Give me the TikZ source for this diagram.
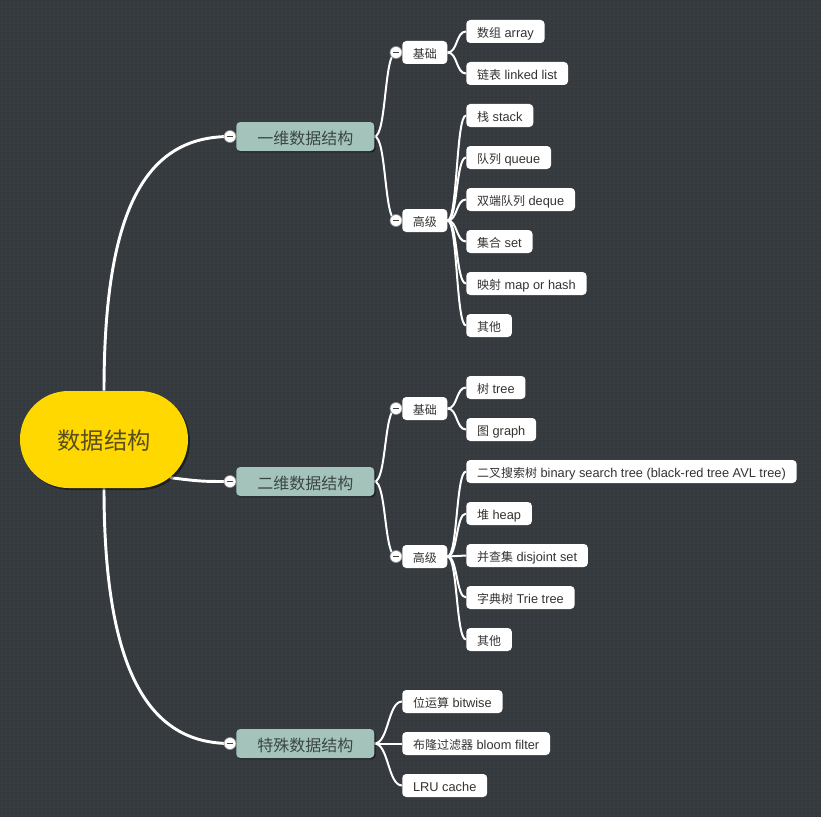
\documentclass[tikz,border=0pt]{standalone}
\usepackage{fontspec}
\setmainfont{Liberation Sans}
\newfontfamily\cjk{Noto Sans CJK SC}
\newcommand\zh[1]{{\cjk\fontsize{9}{11}\selectfont #1}}
\usetikzlibrary{shapes.misc,shadows,patterns}
\pgfdeclarelayer{bg}
\pgfdeclarelayer{links}
\pgfsetlayers{bg,links,main}
\definecolor{bgc}{HTML}{373C40}
\definecolor{dotc}{HTML}{2B2F33}
\definecolor{rootc}{HTML}{FFD800}
\definecolor{roottext}{HTML}{5A4E1E}
\definecolor{lonec}{HTML}{A3C3BB}
\definecolor{lonetext}{HTML}{3C4646}
\definecolor{leaftext}{HTML}{333333}
\begin{document}
\begin{tikzpicture}[x=0.75pt,y=-0.75pt,
  rootnode/.style={rounded rectangle, fill=rootc, minimum width=126pt, minimum height=72.75pt,
    inner sep=0pt, text height=16pt, text depth=0.5pt, font=\cjk\fontsize{17.5}{20}\selectfont, text=roottext,
    drop shadow={shadow xshift=1.5pt, shadow yshift=-1.5pt, opacity=0.45, fill=black}},
  lone/.style={rectangle, rounded corners=3pt, fill=lonec, minimum height=21.75pt,
    inner xsep=15.75pt, inner ysep=0pt, text height=12.5pt, text depth=1pt,
    font=\cjk\fontsize{12}{14}\selectfont, text=lonetext, anchor=west,
    drop shadow={shadow xshift=1pt, shadow yshift=-1pt, opacity=0.45, fill=black}},
  ltwo/.style={rectangle, rounded corners=3pt, fill=white, minimum height=17.25pt,
    inner xsep=7.9pt, inner ysep=0pt, text height=9.5pt, text depth=1pt,
    font=\cjk\fontsize{9}{11}\selectfont, text=leaftext, anchor=west},
  leaf/.style={rectangle, rounded corners=3pt, fill=white, minimum height=17.25pt,
    inner xsep=8.1pt, inner ysep=0pt, text height=9.5pt, text depth=1pt,
    font=\fontsize{9.6}{11}\selectfont, text=leaftext, anchor=west},
  minus/.style={circle, fill=white, draw=black!45, line width=0.5pt, minimum size=9pt, inner sep=0pt,
    path picture={\draw[black!75, line width=0.7pt]
      ([xshift=-2.6pt]path picture bounding box.center) -- ([xshift=2.6pt]path picture bounding box.center);}},
  link/.style={draw=white, line width=1.5pt},
  rootlink/.style={draw=white, line width=2.2pt}
]
\begin{pgfonlayer}{bg}
\fill[bgc] (0,0) rectangle (821,817);
\fill[pattern=dots, pattern color=dotc] (0,0) rectangle (821,817);
\end{pgfonlayer}
\useasboundingbox (0,0) rectangle (821,817);

% root
\node[rootnode] (root) at (104,439.5) {数据结构};

% level 1
\node[lone] (one) at (236,136.5) {一维数据结构};
\node[lone] (two) at (236,481.5) {二维数据结构};
\node[lone] (spec) at (236,743.5) {特殊数据结构};
\node[minus] (c1) at (230,136.5) {};
\node[minus] (c2) at (230,481.5) {};
\node[minus] (c3) at (230,743.5) {};

% level 2
\node[ltwo] (b1) at (402,52.5) {基础};
\node[ltwo] (h1) at (402,220.5) {高级};
\node[ltwo] (b2) at (402,408.5) {基础};
\node[ltwo] (h2) at (402,556.5) {高级};
\node[minus] (cb1) at (396,52.5) {};
\node[minus] (ch1) at (396,220.5) {};
\node[minus] (cb2) at (396,408.5) {};
\node[minus] (ch2) at (396,556.5) {};

% leaves of one
\node[leaf] (a1) at (466,31.5) {\zh{数组} array};
\node[leaf] (a2) at (466,73.5) {\zh{链表} linked list};
\node[leaf] (d1) at (466,115.5) {\zh{栈} stack};
\node[leaf] (d2) at (466,157.5) {\zh{队列} queue};
\node[leaf] (d3) at (466,199.5) {\zh{双端队列} deque};
\node[leaf] (d4) at (466,241.5) {\zh{集合} set};
\node[leaf] (d5) at (466,283.5) {\zh{映射} map or hash};
\node[leaf] (d6) at (466,325.5) {\zh{其他}};

% leaves of two
\node[leaf] (e1) at (466,387.5) {\zh{树} tree};
\node[leaf] (e2) at (466,429.5) {\zh{图} graph};
\node[leaf] (f1) at (466,471.5) {\zh{二叉搜索树} binary search tree (black-red tree AVL tree)};
\node[leaf] (f2) at (466,513.5) {\zh{堆} heap};
\node[leaf] (f3) at (466,555.5) {\zh{并查集} disjoint set};
\node[leaf] (f4) at (466,597.5) {\zh{字典树} Trie tree};
\node[leaf] (f5) at (466,639.5) {\zh{其他}};

% leaves of special
\node[leaf] (s1) at (402,701.5) {\zh{位运算} bitwise};
\node[leaf] (s2) at (402,743.5) {\zh{布隆过滤器} bloom filter};
\node[leaf] (s3) at (402,785.5) {LRU cache};

\begin{pgfonlayer}{links}
\draw[rootlink] (root.north) .. controls +(0,-190) and +(-80,0) .. (c1.center);
\draw[rootlink] (root.-30) .. controls +(30,4) and +(-25,0) .. (c2.center);
\draw[rootlink] (root.south) .. controls +(0,185) and +(-80,0) .. (c3.center);

\draw[link] (one.east) .. controls +(12,0) and +(-12,0) .. (cb1.center);
\draw[link] (one.east) .. controls +(12,0) and +(-12,0) .. (ch1.center);
\draw[link] (two.east) .. controls +(12,0) and +(-12,0) .. (cb2.center);
\draw[link] (two.east) .. controls +(12,0) and +(-12,0) .. (ch2.center);

\foreach \n in {a1,a2} \draw[link] (b1.east) .. controls +(10,0) and +(-10,0) .. (\n.west);
\foreach \n in {d1,d2,d3,d4,d5,d6} \draw[link] (h1.east) .. controls +(10,0) and +(-10,0) .. (\n.west);
\foreach \n in {e1,e2} \draw[link] (b2.east) .. controls +(10,0) and +(-10,0) .. (\n.west);
\foreach \n in {f1,f2,f3,f4,f5} \draw[link] (h2.east) .. controls +(10,0) and +(-10,0) .. (\n.west);
\foreach \n in {s1,s2,s3} \draw[link] (spec.east) .. controls +(14,0) and +(-14,0) .. (\n.west);
\end{pgfonlayer}
\end{tikzpicture}
\end{document}
